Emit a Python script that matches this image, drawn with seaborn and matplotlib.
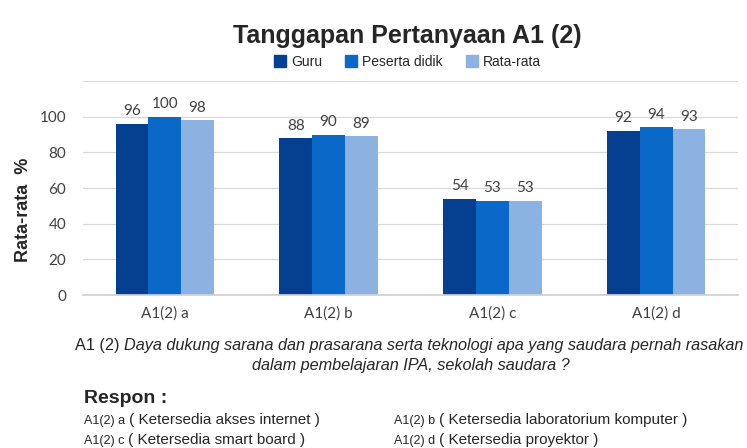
import seaborn as sns
import pandas as pd
import matplotlib.pyplot as plt
from matplotlib.lines import Line2D

sns.set_theme(style="white")
plt.rcParams['font.family'] = ['Lato', 'DejaVu Sans']

categories = ["A1(2) a", "A1(2) b", "A1(2) c", "A1(2) d"]
guru = [96, 88, 54, 92]
peserta = [100, 90, 53, 94]
rata = [98, 89, 53, 93]
series = ["Guru", "Peserta didik", "Rata-rata"]
colors = ["#053f8f", "#0a68c9", "#8cb2e1"]

rows = []
for name, vals in zip(series, [guru, peserta, rata]):
    for c, v in zip(categories, vals):
        rows.append({"kategori": c, "seri": name, "nilai": v})
df = pd.DataFrame(rows)

narrow = ['Liberation Sans', 'DejaVu Sans']

fig = plt.figure(figsize=(7.47, 4.48), dpi=100)
ax = fig.add_axes([0.111, 0.3415, 0.877, 0.4775])

sns.barplot(data=df, x="kategori", y="nilai", hue="seri", palette=colors,
            width=0.6, saturation=1, linewidth=0, ax=ax, legend=False)

for cont in ax.containers:
    ax.bar_label(cont, fmt="%d", padding=4, fontsize=11, color="#404040")

ax.set_ylim(0, 120)
ax.set_yticks(range(0, 121, 20))
ax.set_yticklabels([str(v) for v in range(0, 101, 20)] + [""], fontsize=11, color="#404040")
ax.yaxis.grid(True, color="#d9d9d9", linewidth=0.9)
ax.set_axisbelow(True)
for s in ["left", "right", "top"]:
    ax.spines[s].set_visible(False)
ax.spines["bottom"].set_color("#d0d0d0")
ax.tick_params(axis="y", length=0, pad=12)
ax.tick_params(axis="x", which="major", length=0, labelsize=11, labelcolor="#404040", pad=8)
ax.set_xticks([-0.5, 0.5, 1.5, 2.5, 3.5], minor=True)
ax.tick_params(axis="x", which="minor", length=22, color="#d0d0d0", width=0.9)
ax.set_xlabel("")
ax.set_ylabel("Rata-rata  %", fontsize=13, fontweight="bold", family=narrow)
ax.yaxis.set_label_coords(-0.078, 0.4)

fig.text(0.545, 0.92, "Tanggapan Pertanyaan A1 (2)", ha="center", va="center",
         fontsize=18, fontweight="bold", family=narrow)

handles = [Line2D([], [], marker="s", linestyle="", markersize=8, color=c) for c in colors]
fig.legend(handles, series, loc="center", bbox_to_anchor=(0.545, 0.862), ncol=3,
           frameon=False, prop={"family": narrow, "size": 10},
           handletextpad=0.3, columnspacing=1.6, handlelength=1)

# keterangan pertanyaan
t1 = fig.text(0.1, 0.218, "A1 (2) ", fontsize=11.7, family=narrow, va="baseline")
ax.annotate("Daya dukung sarana dan prasarana serta teknologi apa yang saudara pernah rasakan",
            xy=(1, 0), xycoords=t1, va="bottom", fontsize=11.7, style="italic", family=narrow,
            annotation_clip=False)
fig.text(0.55, 0.173, "dalam pembelajaran IPA, sekolah saudara ?", ha="center", va="baseline",
         fontsize=11.7, style="italic", family=narrow)

fig.text(0.113, 0.1, "Respon :", fontsize=14, fontweight="bold", family=narrow, va="baseline")

keterangan = [
    (0.113, 0.054, "A1(2) a", "( Ketersedia akses internet )"),
    (0.528, 0.054, "A1(2) b", "( Ketersedia laboratorium komputer )"),
    (0.113, 0.008, "A1(2) c", "( Ketersedia smart board )"),
    (0.528, 0.008, "A1(2) d", "( Ketersedia proyektor )"),
]
for x, y, kode, teks in keterangan:
    p = fig.text(x, y, kode + " ", fontsize=9, family=narrow, va="baseline")
    ax.annotate(teks, xy=(1, 0), xycoords=p, va="bottom", fontsize=11, family=narrow,
                annotation_clip=False)

fig.savefig("out.png", dpi=100, facecolor="white")
